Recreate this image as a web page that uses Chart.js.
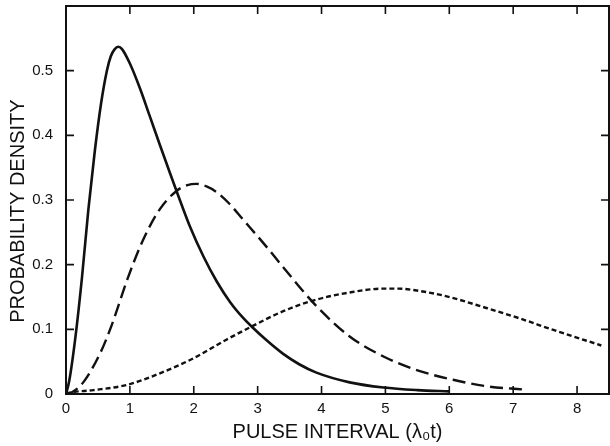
<!DOCTYPE html>
<html>
<head>
<meta charset="utf-8">
<script src="https://cdn.jsdelivr.net/npm/chart.js@4/dist/chart.umd.min.js"></script>
<style>
  html, body { margin: 0; padding: 0; background: #fff; }
  #box { width: 610px; height: 446px; }
</style>
</head>
<body>
<div id="box"><canvas id="grafico"></canvas></div>
<script>
// curve: solid
const solidX = [0, 0.05, 0.15, 0.25, 0.35, 0.45, 0.55, 0.64, 0.70, 0.76, 0.82, 0.88, 1.00, 1.16, 1.31, 1.47, 1.63, 1.73, 1.94, 2.15, 2.36, 2.57, 2.77, 2.93, 3.14, 3.40, 3.65, 3.92, 4.44, 4.97, 5.5, 6.0];
const solidY = [0, 0.02, 0.09, 0.18, 0.285, 0.375, 0.45, 0.500, 0.522, 0.533, 0.537, 0.533, 0.511, 0.472, 0.430, 0.385, 0.341, 0.314, 0.259, 0.213, 0.174, 0.142, 0.118, 0.102, 0.083, 0.062, 0.046, 0.033, 0.018, 0.010, 0.006, 0.004];

// long dashes
const dashX = [0, 0.1, 0.27, 0.53, 0.71, 0.97, 1.21, 1.47, 1.73, 1.9, 2.04, 2.2, 2.36, 2.55, 2.77, 3.17, 3.40, 3.92, 4.44, 4.97, 5.49, 6.06, 6.58, 7.16];
const dashY = [0, 0.003, 0.018, 0.062, 0.105, 0.180, 0.239, 0.286, 0.314, 0.323, 0.325, 0.321, 0.312, 0.295, 0.270, 0.224, 0.196, 0.136, 0.089, 0.058, 0.037, 0.022, 0.012, 0.007];

// short dashes
const dotX = [0, 0.06, 0.43, 0.95, 1.47, 1.99, 2.51, 2.88, 3.40, 3.92, 4.44, 4.97, 5.2, 5.49, 5.96, 6.58, 7.10, 7.63, 8.38];
const dotY = [0, 0.002, 0.006, 0.014, 0.032, 0.055, 0.084, 0.103, 0.128, 0.146, 0.157, 0.163, 0.163, 0.160, 0.151, 0.133, 0.117, 0.099, 0.075];

const xTicks = [0, 1, 2, 3, 4, 5, 6, 7, 8];
const yTicks = [0, 0.1, 0.2, 0.3, 0.4, 0.5];

const tinta = "#111";
const fonte = "'Liberation Sans', Arial, sans-serif";

function pares(xs, ys) {
  return xs.map((x, i) => ({ x: x, y: ys[i] }));
}

// frame with inward tick marks on all four sides
const moldura = {
  id: "moldura",
  afterDatasetsDraw(chart) {
    const { ctx, chartArea: a, scales } = chart;
    const len = 8;
    ctx.save();
    ctx.strokeStyle = tinta;
    ctx.lineWidth = 2;
    ctx.strokeRect(a.left, a.top, a.right - a.left, a.bottom - a.top);
    ctx.lineWidth = 1.6;
    ctx.beginPath();
    xTicks.forEach(v => {
      if (v === 0) return;
      const px = scales.x.getPixelForValue(v);
      ctx.moveTo(px, a.bottom); ctx.lineTo(px, a.bottom - len);
      ctx.moveTo(px, a.top); ctx.lineTo(px, a.top + len);
    });
    yTicks.forEach(v => {
      if (v === 0) return;
      const py = scales.y.getPixelForValue(v);
      ctx.moveTo(a.left, py); ctx.lineTo(a.left + len, py);
      ctx.moveTo(a.right, py); ctx.lineTo(a.right - len, py);
    });
    ctx.stroke();
    ctx.restore();
  }
};

const ctx = document.getElementById("grafico");

new Chart(ctx, {
  type: "line",
  data: {
    datasets: [
      { data: pares(solidX, solidY), borderWidth: 2.6, borderDash: [] },
      { data: pares(dashX, dashY), borderWidth: 2.4, borderDash: [13, 6] },
      { data: pares(dotX, dotY), borderWidth: 2.4, borderDash: [5, 3] }
    ].map(d => Object.assign(d, {
      borderColor: tinta,
      pointRadius: 0,
      fill: false,
      cubicInterpolationMode: "monotone"
    }))
  },
  options: {
    responsive: true,
    maintainAspectRatio: false,
    animation: false,
    events: [],
    layout: { padding: { top: 6, right: 1, left: 0, bottom: 0 }, autoPadding: false },
    plugins: { legend: { display: false }, tooltip: { enabled: false } },
    scales: {
      x: {
        type: "linear",
        min: 0,
        max: 8.5,
        grid: { display: false, drawTicks: false },
        border: { display: false },
        afterBuildTicks: s => { s.ticks = xTicks.map(v => ({ value: v })); },
        afterFit: s => { s.height = 52; s.paddingLeft = 0; s.paddingRight = 0; },
        ticks: {
          padding: 6,
          color: tinta,
          font: { family: fonte, size: 15 },
          callback: v => String(v)
        },
        title: {
          display: true,
          text: "PULSE INTERVAL (λ₀t)",
          color: tinta,
          font: { family: fonte, size: 20 },
          padding: { top: 0, bottom: 2 }
        }
      },
      y: {
        min: 0,
        max: 0.6,
        grid: { display: false, drawTicks: false },
        border: { display: false },
        afterBuildTicks: s => { s.ticks = yTicks.map(v => ({ value: v })); },
        afterFit: s => { s.width = 66; s.paddingTop = 0; s.paddingBottom = 0; },
        ticks: {
          padding: 13,
          color: tinta,
          font: { family: fonte, size: 15 },
          callback: v => v === 0 ? "0" : v.toFixed(1)
        },
        title: {
          display: true,
          text: "PROBABILITY DENSITY    ",
          color: tinta,
          font: { family: fonte, size: 20 },
          padding: { top: 6, bottom: 0 }
        }
      }
    }
  },
  plugins: [moldura]
});
</script>
</body>
</html>
